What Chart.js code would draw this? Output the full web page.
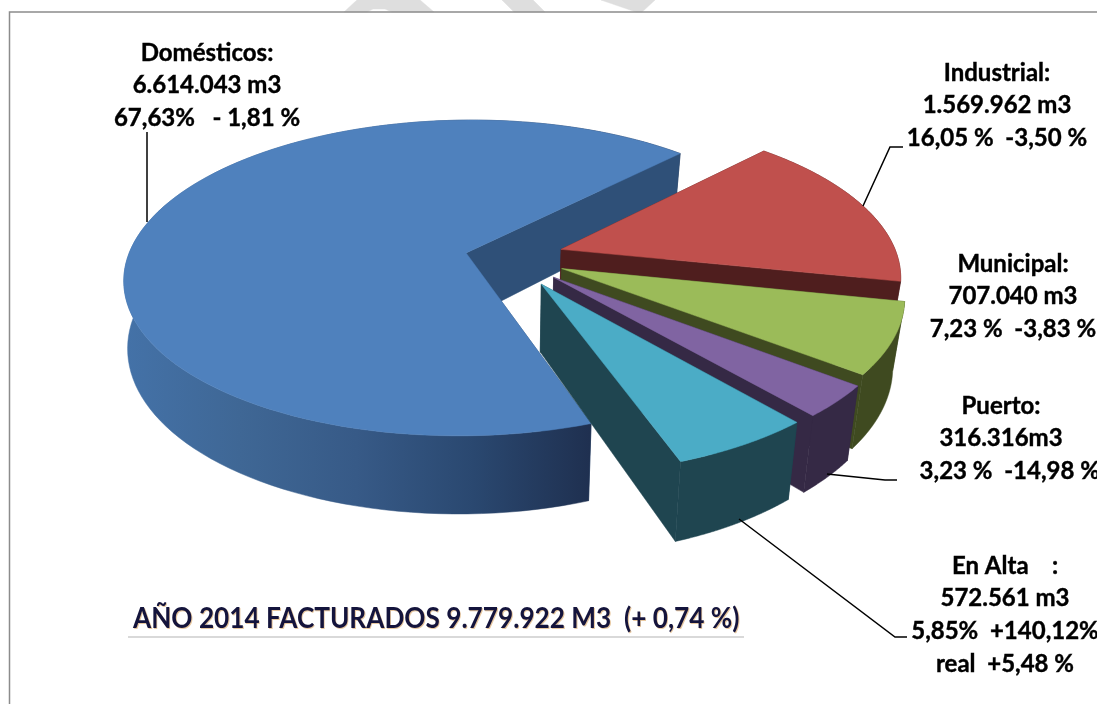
<!DOCTYPE html>
<html><head><meta charset="utf-8">
<style>html,body{margin:0;padding:0;background:#fff;overflow:hidden}#w{position:relative;width:1097px;height:704px}canvas{display:block}</style>
<script src="https://cdn.jsdelivr.net/npm/chart.js@4"></script>
</head><body><div id="w"><canvas id="c" width="1097" height="704"></canvas></div>
<script>
const categories = ['Domésticos','Industrial','Municipal','Puerto','En Alta'];
const volumes = [6614043,1569962,707040,316316,572561];
const topColors = ['#4f81bd','#c0504d','#9bbb59','#8064a2','#4bacc6'];
const wallColors = ['#2f5078','#4f1e1e','#3f4a20','#352945','#1f4550'];
const explode = [118,160,167,177,187];
const rimScale = [0.995,0.99,0.98,0.983,0.97];
const labelLines = [
 ['Domésticos:','6.614.043 m3','67,63%   - 1,81 %'],
 ['Industrial:','1.569.962 m3','16,05 %  -3,50 %'],
 ['Municipal:','707.040 m3','7,23 %  -3,83 %'],
 ['Puerto:','316.316m3','   3,23 %  -14,98 %'],
 ['En Alta    :','572.561 m3','5,85%  +140,12%','real  +5,48 %']
];
const titleText = 'AÑO 2014 FACTURADOS 9.779.922 M3  (+ 0,74 %)';

// camera used to tilt the flat pie the library lays out
const cam = {cx:507, cy:257, sx:340, sy:156, k:0.16, depth:66, shrinkRight:0.97, shrinkLeft:0.99};
const labelPos = [[207,60],[997,80],[1013,271],[1001,413],[1005,573]];
const leaders = [
 [[147,222],[147,132]],
 [[863,206],[890,147],[903,147]],
 [[827,474],[885,480],[897,480]],
 [[739,519],[895,637],[907,637]]
];
const watermark = [
 [[357,0],[420,0],[434,12],[392,12],[385,9],[373,9],[367,12],[344,12]],
 [[502,0],[533,0],[545,12],[514,12]],
 [[601,0],[655,0],[642,12],[636,12]]
];
const fontName = 'Lato, "Open Sans", sans-serif';

function project(chartR, ex, ey, bottom){
  const u = ex/chartR, v = ey/chartR;
  const w = 1 - cam.k*v;
  const s = bottom ? (u<0?cam.shrinkLeft:cam.shrinkRight) : 1;
  return [cam.cx + cam.sx*u/w*s, cam.cy + (cam.sy*v + (bottom?cam.depth:0))/w];
}
function slicePts(arc,scale){
  const p = arc.getProps(['startAngle','endAngle','outerRadius'],true);
  const off = (arc.options.offset||0)/4;
  const mid = (p.startAngle+p.endAngle)/2;
  const ax = Math.cos(mid)*off, ay = Math.sin(mid)*off;
  const n = 120, pts=[];
  for(let i=0;i<=n;i++){
    const a = p.startAngle+(p.endAngle-p.startAngle)*i/n;
    pts.push([ax+Math.cos(a)*p.outerRadius*scale, ay+Math.sin(a)*p.outerRadius*scale]);
  }
  return {apex:[ax,ay], rim:pts, a0:p.startAngle, a1:p.endAngle};
}
function poly(ctx,pts,fill){
  ctx.beginPath();
  pts.forEach((q,i)=> i?ctx.lineTo(q[0],q[1]):ctx.moveTo(q[0],q[1]));
  ctx.closePath(); ctx.fillStyle=fill; ctx.fill();
  ctx.strokeStyle=fill; ctx.lineWidth=0.5; ctx.stroke();
}
const tilted = {
  id:'tilted',
  beforeDatasetDraw(chart,args){
    const ctx = chart.ctx;
    const arcs = args.meta.data;
    const R = arcs[0].outerRadius;
    arcs.forEach((arc,i)=>{
      const s = slicePts(arc,rimScale[i]);
      const P = (q,b)=>project(R,q[0],q[1],b);
      const top = s.rim.map(q=>P(q,false));
      const bot = s.rim.map(q=>P(q,true));
      const apT = P(s.apex,false), apB = P(s.apex,true);
      const startWall = [apT,top[0],bot[0],apB];
      const endWall = [apT,top[top.length-1],bot[bot.length-1],apB];
      const startFront = -Math.cos(s.a0)>0, endFront = Math.cos(s.a1)>0;
      if(!startFront) poly(ctx,startWall,wallColors[i]);
      if(!endFront) poly(ctx,endWall,wallColors[i]);
      let fill = wallColors[i];
      if(i===0){
        const g = ctx.createLinearGradient(123,0,590,0);
        g.addColorStop(0,'#4472a8');g.addColorStop(0.25,'#3f6795');g.addColorStop(0.5,'#375a87');
        g.addColorStop(0.75,'#2a4870');g.addColorStop(1,'#1f3050');
        fill = g;
      }
      poly(ctx,top.concat(bot.slice().reverse()),fill);
      if(startFront) poly(ctx,startWall,wallColors[i]);
      if(endFront) poly(ctx,endWall,wallColors[i]);
      poly(ctx,[apT].concat(top),topColors[i]);
    });
    return false;
  }
};
const notes = {
  id:'notes',
  beforeDraw(chart){
    const ctx = chart.ctx;
    ctx.save();
    ctx.fillStyle='#fff';ctx.fillRect(0,0,1097,704);
    watermark.forEach(w=>poly(ctx,w,'#dedede'));
    ctx.strokeStyle='#8c8c8c';ctx.lineWidth=1.5;
    ctx.beginPath();ctx.moveTo(9.5,704);ctx.lineTo(9.5,12);ctx.lineTo(1097,12);ctx.stroke();
    ctx.restore();
  },
  afterDraw(chart){
    const ctx = chart.ctx;
    ctx.save();
    ctx.strokeStyle='#000';ctx.lineWidth=1.5;
    leaders.forEach(l=>{ctx.beginPath();l.forEach((q,i)=>i?ctx.lineTo(q[0],q[1]):ctx.moveTo(q[0],q[1]));ctx.stroke();});
    ctx.fillStyle='#000';ctx.strokeStyle='#000';ctx.lineWidth=0.4;ctx.textAlign='center';ctx.textBaseline='middle';
    ctx.font='bold 24px '+fontName;
    labelLines.forEach((lines,i)=>{
      lines.forEach((t,j)=>{const x=labelPos[i][0],y=labelPos[i][1]+j*32.7-7;ctx.fillText(t,x,y);ctx.strokeText(t,x,y);});
    });
    ctx.fillStyle='#d9d9d9';ctx.fillRect(128,636,616,2);
    ctx.font='bold 29px '+fontName;ctx.textAlign='left';
    ctx.translate(133,619);ctx.scale(0.903,1);
    ctx.fillStyle='#e8c8a0';ctx.fillText(titleText,1,1);
    ctx.fillStyle='#14143c';ctx.fillText(titleText,0,0);
    ctx.restore();
  }
};
new Chart(document.getElementById('c'),{
  type:'pie',
  data:{labels:categories,datasets:[{data:volumes,backgroundColor:topColors,borderWidth:0,offset:explode}]},
  options:{responsive:false,animation:false,rotation:160.5,
    plugins:{legend:{display:false},tooltip:{enabled:false}},layout:{padding:20}},
  plugins:[tilted,notes]
});
</script></body></html>
